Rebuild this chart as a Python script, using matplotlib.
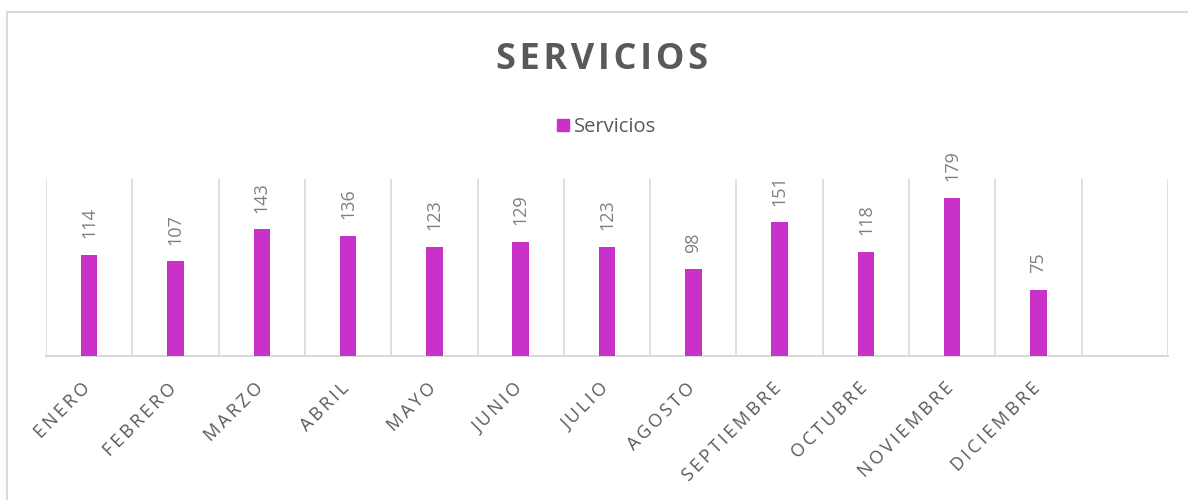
import matplotlib
matplotlib.use("Agg")
import matplotlib.pyplot as plt
from matplotlib.patches import Rectangle, Patch
from matplotlib.transforms import ScaledTranslation

months = ["ENERO", "FEBRERO", "MARZO", "ABRIL", "MAYO", "JUNIO", "JULIO",
          "AGOSTO", "SEPTIEMBRE", "OCTUBRE", "NOVIEMBRE", "DICIEMBRE"]
values = [114, 107, 143, 136, 123, 129, 123, 98, 151, 118, 179, 75]
series_name = "Servicios"
title = "SERVICIOS"

plt.rcParams['font.family'] = ['Open Sans', 'DejaVu Sans']

BAR = "#C832C8"
GRID = "#D9D9D9"
DARK = "#595959"
LABEL = "#7F7F7F"

W, H = 1188, 500
fig = plt.figure(figsize=(W / 100, H / 100), dpi=100)

# outer border
fig.patches.append(Rectangle((7 / W, -0.05), 1.2, 1 - 12 / H + 0.05,
                             transform=fig.transFigure, fill=False,
                             edgecolor=GRID, linewidth=1.5))

left, right, top, bottom = 46, 1168, 179, 356
ax = fig.add_axes([left / W, 1 - bottom / H, (right - left) / W, (bottom - top) / H])

n_slots = len(months) + 1
x = list(range(len(months)))
ax.bar(x, values, width=0.19, color=BAR, zorder=3)
ax.set_xlim(-0.5, n_slots - 0.5)
ax.set_ylim(0, 200)

for i in range(n_slots + 1):
    ax.axvline(i - 0.5, color=GRID, linewidth=1.2, zorder=1)

for s in ["top", "right", "left"]:
    ax.spines[s].set_visible(False)
ax.spines["bottom"].set_color(GRID)
ax.spines["bottom"].set_linewidth(1.5)
ax.set_yticks([])

def spaced(s, sp="\u2009"):
    return sp.join(list(s))

ax.set_xticks(x)
ax.set_xticklabels([spaced(m) for m in months], rotation=45, ha="right",
                   va="bottom", rotation_mode="anchor", fontsize=13, color=DARK)
ax.tick_params(axis="x", length=0, pad=26)
off = ScaledTranslation(0.05, 0, fig.dpi_scale_trans)
for lab in ax.get_xticklabels():
    lab.set_transform(lab.get_transform() + off)

for xi, v in zip(x, values):
    ax.annotate(str(v), (xi, v), xytext=(0, 12), textcoords="offset points",
                rotation=90, ha="center", va="bottom", fontsize=13, color=LABEL)

fig.text(602 / W, 1 - 60 / H, spaced(title, "\u200a"), ha="center", va="center",
         fontsize=26, fontweight="bold", color=DARK)

handles = [Patch(facecolor=BAR, edgecolor=BAR)]
fig.legend(handles, [series_name], loc="center", bbox_to_anchor=(607 / W, 1 - 127 / H),
           frameon=False, fontsize=14.5, labelcolor=DARK, handlelength=0.6,
           handleheight=0.6, handletextpad=0.25)

fig.savefig("out.png", dpi=100)
